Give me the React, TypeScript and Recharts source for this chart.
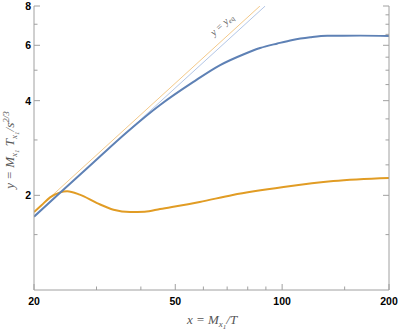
import React from 'react';
import { LineChart, Line, XAxis, YAxis } from 'recharts';

// Thick curves
const blueX = [20, 23.6, 29.3, 36.6, 45.3, 56.1, 66.9, 78, 86.7, 97, 107, 120, 134, 166, 200];
const blueY = [1.71, 2.03, 2.535, 3.18, 3.875, 4.58, 5.19, 5.62, 5.88, 6.08, 6.24, 6.36, 6.43, 6.44, 6.42];
const orangeX = [20, 21, 22.2, 23.6, 24.8, 26.9, 30.1, 33.5, 37.3, 41, 45.3, 58.6, 72.6, 100.9, 139.4, 200];
const orangeY = [1.77, 1.86, 1.97, 2.04, 2.06, 2.01, 1.89, 1.8, 1.77, 1.775, 1.81, 1.905, 2.006, 2.125, 2.22, 2.27];
// Equilibrium lines (straight on log-log)
const eqBlueX = [20, 89.6];
const eqBlueY = [1.71, 8];
const eqOrangeX = [20, 86.6];
const eqOrangeY = [1.77, 8];

const xTicks = [20, 30, 40, 50, 60, 70, 80, 90, 100, 150, 200];
const xLabels = [20, 50, 100, 200];
const yTicksLeft = [1.5, 2, 3, 4, 5, 6, 7, 8];
const yTicksRight = [1.5, 2, 2.5, 3, 3.5, 4, 4.5, 5, 5.5, 6, 6.5, 7, 7.5, 8];
const yLabels = [2, 4, 6, 8];

const zip = (xs: number[], ys: number[]) => xs.map((x, i) => ({ x, y: ys[i] }));

const FRAME = '#a0a0a0';
const tickFont = { fontFamily: '"Liberation Sans", Arial, sans-serif', fontWeight: 700, fontSize: 10.5, fill: '#000' };

const makeXTick = (side: 'bottom' | 'top') => (props: any) => {
  const { x, y, payload } = props;
  const v = payload.value;
  const major = xLabels.includes(v);
  const len = major ? 6 : 3.5;
  const dir = side === 'bottom' ? -1 : 1;
  return (
    <g>
      <line x1={x} x2={x} y1={y} y2={y + dir * len} stroke={FRAME} strokeWidth={1} />
      {side === 'bottom' && major && (
        <text x={x} y={y + 15} textAnchor="middle" style={tickFont}>{v}</text>
      )}
    </g>
  );
};

const makeYTick = (side: 'left' | 'right') => (props: any) => {
  const { x, y, payload } = props;
  const v = payload.value;
  const major = yLabels.includes(v);
  const len = major ? 6 : 3.5;
  const dir = side === 'left' ? 1 : -1;
  return (
    <g>
      <line x1={x} x2={x + dir * len} y1={y} y2={y} stroke={FRAME} strokeWidth={1} />
      {side === 'left' && major && (
        <text x={x - 3} y={y + 4} textAnchor="end" style={tickFont}>{v}</text>
      )}
    </g>
  );
};

const serif = { fontFamily: '"Liberation Serif", "Times New Roman", serif', fontStyle: 'italic' as const, fill: '#555' };

export default function App() {
  return (
    <div style={{ position: 'absolute', left: 0, top: 0, width: 399, height: 331, background: '#fff' }}>
      <LineChart width={399} height={331} margin={{ top: 6, right: 0, bottom: 0, left: 0 }}>
        <XAxis xAxisId="b" dataKey="x" type="number" scale="log" domain={[20, 200]} allowDataOverflow
          ticks={xTicks} interval={0} height={41} tickSize={0} tickMargin={0} tickLine={false}
          axisLine={{ stroke: FRAME }} tick={makeXTick('bottom')} />
        <XAxis xAxisId="t" orientation="top" dataKey="x" type="number" scale="log" domain={[20, 200]} allowDataOverflow
          ticks={xTicks} interval={0} height={0} tickSize={0} tickMargin={0} tickLine={false}
          axisLine={{ stroke: FRAME }} tick={makeXTick('top')} />
        <YAxis yAxisId="l" dataKey="y" type="number" scale="log" domain={[1, 8]} allowDataOverflow
          ticks={yTicksLeft} interval={0} width={34} tickSize={0} tickMargin={0} tickLine={false}
          axisLine={{ stroke: FRAME }} tick={makeYTick('left')} />
        <YAxis yAxisId="r" orientation="right" dataKey="y" type="number" scale="log" domain={[1, 8]} allowDataOverflow
          ticks={yTicksRight} interval={0} width={10} tickSize={0} tickMargin={0} tickLine={false}
          axisLine={{ stroke: FRAME }} tick={makeYTick('right')} />
        <Line xAxisId="b" yAxisId="l" data={zip(eqOrangeX, eqOrangeY)} dataKey="y" stroke="#f3c98a" strokeWidth={1} dot={false} isAnimationActive={false} />
        <Line xAxisId="b" yAxisId="l" data={zip(eqBlueX, eqBlueY)} dataKey="y" stroke="#b3c6e6" strokeWidth={1} dot={false} isAnimationActive={false} />
        <Line xAxisId="b" yAxisId="l" data={zip(orangeX, orangeY)} dataKey="y" type="monotone" stroke="#E19C24" strokeWidth={2} dot={false} isAnimationActive={false} />
        <Line xAxisId="b" yAxisId="l" data={zip(blueX, blueY)} dataKey="y" type="monotone" stroke="#5E81B5" strokeWidth={2} dot={false} isAnimationActive={false} />
      </LineChart>
      <svg width={399} height={331} style={{ position: 'absolute', left: 0, top: 0, pointerEvents: 'none' }}>
        <text x={212} y={324} textAnchor="middle" style={{ ...serif, fontSize: 13 }}>
          x = M<tspan fontSize={9} dy={3}>x</tspan><tspan fontSize={7} dy={2}>1</tspan><tspan dy={-5}>/T</tspan>
        </text>
        <text transform="translate(14,150) rotate(-90)" textAnchor="middle" style={{ ...serif, fontSize: 13 }}>
          y = M<tspan fontSize={9} dy={3}>x</tspan><tspan fontSize={7} dy={2}>1</tspan><tspan dy={-5}> T</tspan><tspan fontSize={9} dy={3}>x</tspan><tspan fontSize={7} dy={2}>1</tspan><tspan dy={-5}>/s</tspan><tspan fontSize={9} dy={-5}>2/3</tspan>
        </text>
        <text transform="translate(224,27) rotate(-43)" textAnchor="middle" style={{ ...serif, fontSize: 10 }}>
          y = y<tspan fontSize={7} dy={2}>eq</tspan>
        </text>
      </svg>
    </div>
  );
}
